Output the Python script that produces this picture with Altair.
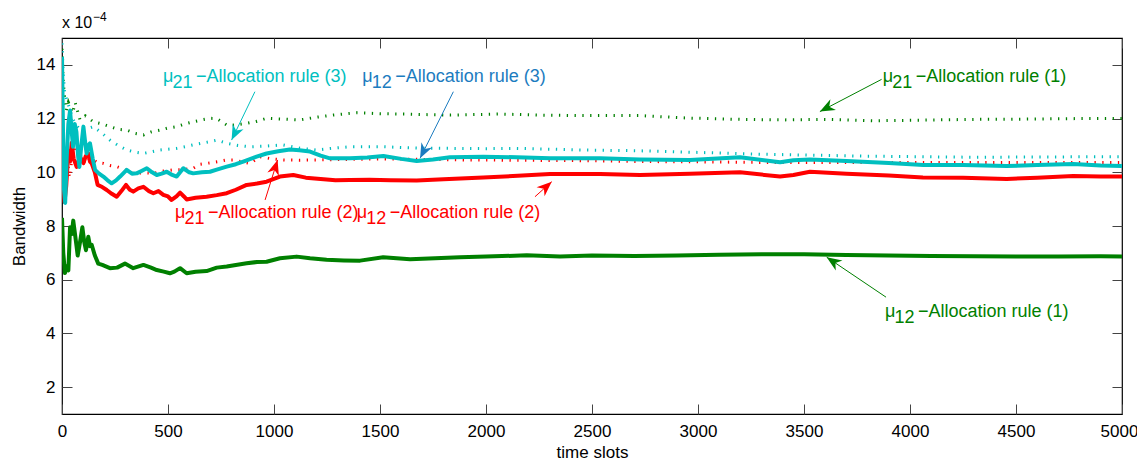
import math
import altair as alt
import pandas as pd

# ---------------- data ----------------
# thick solid lines
gs_x = [0, 6, 14, 22, 30, 38, 46, 53, 63, 74, 85, 96, 105, 113, 124, 132, 140, 155, 171, 190, 226, 260, 297, 336,
        384, 420, 447, 480, 509, 530, 557, 588, 630, 682, 730, 777, 820, 871, 920, 965, 1028, 1107, 1170, 1248, 1330,
        1406, 1515, 1642, 1760, 1877, 2000, 2192, 2349, 2500, 2700, 2900, 3100, 3300, 3500, 3700, 3900, 4100, 4300,
        4500, 4700, 4900, 5000]
gs_v = [8.3, 7.0, 6.25, 6.5, 6.35, 7.95, 7.7, 8.2, 7.6, 6.9, 7.4, 7.95, 7.4, 7.1, 7.6, 7.25, 7.3, 6.9, 6.6, 6.55,
        6.43, 6.45, 6.6, 6.43, 6.55, 6.45, 6.36, 6.3, 6.24, 6.3, 6.43, 6.24, 6.3, 6.32, 6.45, 6.49, 6.55, 6.61, 6.66,
        6.67, 6.8, 6.86, 6.8, 6.74, 6.72, 6.71, 6.84, 6.76, 6.8, 6.84, 6.86, 6.91, 6.86, 6.9, 6.88, 6.9, 6.93, 6.95,
        6.95, 6.92, 6.9, 6.88, 6.87, 6.86, 6.86, 6.87, 6.86]

rs_x = [0, 5, 12, 20, 30, 38, 46, 55, 69, 85, 101, 112, 124, 132, 140, 155, 168, 190, 211, 235, 258, 280, 302, 320,
        336, 360, 384, 410, 431, 455, 478, 500, 517, 540, 557, 575, 588, 630, 682, 730, 777, 820, 871, 920, 965, 1028,
        1091, 1150, 1220, 1290, 1358, 1450, 1550, 1673, 1800, 1987, 2150, 2302, 2538, 2726, 2962, 3198, 3387, 3450,
        3528, 3700, 3900, 4061, 4250, 4456, 4600, 4770, 4900, 5000]
rs_v = [11.0, 10.0, 8.9, 9.5, 10.8, 10.4, 11.1, 10.5, 10.2, 10.58, 10.34, 10.6, 10.7, 10.4, 10.33, 10.0, 9.53, 9.45,
        9.34, 9.2, 9.09, 9.3, 9.53, 9.35, 9.28, 9.4, 9.46, 9.3, 9.22, 9.3, 9.16, 9.1, 8.97, 9.1, 9.24, 9.1, 8.99, 9.05,
        9.09, 9.15, 9.22, 9.35, 9.53, 9.58, 9.65, 9.84, 9.9, 9.8, 9.75, 9.7, 9.71, 9.72, 9.7, 9.69, 9.74, 9.81, 9.87,
        9.94, 9.94, 9.9, 9.95, 10.0, 9.84, 9.9, 10.02, 9.95, 9.88, 9.81, 9.8, 9.75, 9.8, 9.86, 9.84, 9.84]

cs_x = [0, 4, 8, 15, 22, 30, 38, 46, 52, 60, 68, 76, 82, 90, 101, 108, 116, 124, 132, 145, 156, 175, 195, 215, 234,
        255, 274, 305, 330, 352, 375, 400, 425, 447, 470, 494, 520, 541, 572, 600, 619, 660, 698, 730, 777, 820, 855,
        918, 965, 1020, 1075, 1120, 1170, 1220, 1264, 1358, 1440, 1516, 1600, 1673, 1750, 1830, 1987, 2145, 2302,
        2538, 2726, 2962, 3198, 3387, 3450, 3528, 3700, 3900, 4063, 4250, 4456, 4600, 4770, 4900, 5000]
cs_v = [14.3, 12.0, 9.5, 8.86, 10.5, 11.8, 12.3, 11.5, 10.95, 11.8, 11.5, 10.6, 10.2, 10.9, 11.7, 11.2, 10.7, 11.0,
        11.08, 10.5, 10.09, 9.95, 9.84, 9.7, 9.59, 9.7, 9.84, 10.09, 9.95, 9.96, 10.05, 10.15, 10.0, 9.9, 9.95, 10.02,
        9.9, 9.84, 10.15, 10.0, 9.96, 10.0, 10.02, 10.1, 10.21, 10.3, 10.4, 10.58, 10.7, 10.78, 10.85, 10.82, 10.77,
        10.62, 10.52, 10.52, 10.55, 10.61, 10.5, 10.42, 10.48, 10.56, 10.58, 10.56, 10.52, 10.52, 10.48, 10.46, 10.56,
        10.37, 10.45, 10.48, 10.42, 10.35, 10.27, 10.27, 10.23, 10.27, 10.31, 10.25, 10.23]

# dotted lines
gd_x = [0, 5, 12, 20, 30, 38, 50, 62, 85, 110, 148, 190, 226, 265, 305, 345, 384, 420, 462, 500, 541, 580, 619, 660,
        698, 730, 777, 808, 871, 920, 965, 1044, 1123, 1200, 1280, 1390, 1500, 1594, 1700, 1830, 1950, 2066, 2250,
        2458, 2726, 2950, 3198, 3400, 3600, 3828, 4050, 4300, 4550, 4800, 5000]
gd_v = [14.6, 13.5, 12.8, 12.3, 12.6, 12.44, 12.2, 12.6, 11.95, 12.1, 11.88, 11.8, 11.7, 11.6, 11.57, 11.45, 11.39,
        11.5, 11.57, 11.65, 11.7, 11.8, 11.88, 11.95, 12.01, 12.0, 11.76, 11.76, 11.82, 11.9, 12.01, 11.98, 11.95,
        12.05, 12.13, 12.22, 12.18, 12.17, 12.15, 12.13, 12.15, 12.17, 12.13, 12.11, 12.11, 12.02, 11.97, 11.95,
        11.97, 11.92, 11.94, 11.97, 11.98, 12.0, 12.0]

cd_x = [0, 5, 12, 22, 35, 50, 65, 85, 110, 148, 190, 226, 265, 305, 345, 384, 420, 462, 500, 541, 580, 619, 660,
        698, 730, 777, 830, 887, 950, 1044, 1120, 1201, 1280, 1358, 1516, 1680, 1830, 2000, 2145, 2300, 2458, 2726,
        3000, 3250, 3513, 3800, 4050, 4300, 4600, 5000]
cd_v = [14.8, 13.8, 13.0, 12.7, 12.4, 12.0, 11.8, 11.57, 11.6, 11.7, 11.45, 11.2, 11.0, 10.83, 10.75, 10.7, 10.76,
        10.83, 10.86, 10.89, 10.95, 11.02, 11.08, 11.14, 11.2, 11.08, 11.0, 10.95, 10.97, 11.02, 10.9, 10.83, 10.9,
        10.95, 10.95, 10.9, 10.89, 10.88, 10.89, 10.86, 10.83, 10.8, 10.74, 10.68, 10.64, 10.6, 10.58, 10.56, 10.57,
        10.58]

rd_x = [0, 8, 15, 25, 35, 45, 60, 75, 90, 110, 130, 148, 170, 195, 226, 258, 300, 336, 384, 431, 480, 525, 570, 619,
        651, 698, 740, 777, 808, 887, 934, 990, 1044, 1120, 1201, 1280, 1358, 1500, 1700, 1900, 2100, 2300, 2500,
        2726, 3000, 3250, 3513, 3800, 4100, 4400, 4700, 5000]
rd_v = [11.0, 9.6, 10.0, 10.5, 9.8, 10.4, 11.0, 10.8, 10.6, 10.3, 10.5, 10.46, 10.35, 10.33, 10.25, 10.21, 10.08,
        9.96, 9.98, 9.96, 10.05, 10.09, 10.1, 10.15, 10.3, 10.35, 10.4, 10.46, 10.46, 10.33, 10.58, 10.5, 10.46,
        10.45, 10.46, 10.47, 10.48, 10.5, 10.48, 10.46, 10.45, 10.44, 10.43, 10.4, 10.39, 10.37, 10.36, 10.36,
        10.36, 10.36, 10.36, 10.36]

# ticks
x_ticks = [0, 500, 1000, 1500, 2000, 2500, 3000, 3500, 4000, 4500, 5000]
y_ticks = [2, 4, 6, 8, 10, 12, 14]

# annotations: label position (data coords), arrow start, arrow tip
ann_sub = ["21", "12", "21", "12", "21", "12"]
ann_rest = ["\u2212Allocation rule (3)", "\u2212Allocation rule (3)", "\u2212Allocation rule (2)",
            "\u2212Allocation rule (2)", "\u2212Allocation rule (1)", "\u2212Allocation rule (1)"]
ann_color = ["#00BFBF", "#1C7CC0", "#FF0000", "#FF0000", "#008000", "#008000"]
ann_x = [476, 1416, 533, 1390, 3871, 3882]
ann_y = [13.38, 13.38, 8.29, 8.29, 13.37, 4.6]
arr_x0 = [910, 1846, 958, 2231, 3866, 3887]
arr_y0 = [13.0, 13.0, 8.97, 9.09, 13.46, 5.35]
arr_x1 = [800, 1689, 1017, 2310, 3575, 3607]
arr_y1 = [11.2, 10.52, 10.46, 9.65, 12.26, 6.84]

GREEN, RED, CYAN = "#008000", "#FF0000", "#00BFBF"
FONT = "Liberation Sans"

# ---------------- chart ----------------
W, H = 1060, 376
XMAX, YMIN, YMAX = 5000, 1, 15
xscale = alt.Scale(domain=[0, XMAX], nice=False, zero=False)
yscale = alt.Scale(domain=[YMIN, YMAX], nice=False, zero=False)


def line_layer(xs, vs, color, dotted):
    df = pd.DataFrame({"x": xs, "v": vs})
    if dotted:
        m = alt.Chart(df).mark_line(color=color, strokeWidth=3, strokeDash=[1.3, 6.5], strokeCap="butt", clip=True)
    else:
        m = alt.Chart(df).mark_line(color=color, strokeWidth=4, strokeJoin="round", clip=True)
    return m.encode(x=alt.X("x:Q", scale=xscale, axis=None), y=alt.Y("v:Q", scale=yscale, axis=None))


axis_common = dict(tickSize=10, offset=-10, domain=False, tickColor="#444", tickWidth=1, grid=False,
                   labelFont=FONT, labelFontSize=17, labelColor="black", titleFont=FONT, titleFontSize=17,
                   titleFontWeight="normal", titleColor="black", format="d")

carrier = pd.DataFrame({"x": [0, XMAX], "v": [YMIN, YMAX]})
axes_bl = alt.Chart(carrier).mark_point(opacity=0).encode(
    x=alt.X("x:Q", scale=xscale, axis=alt.Axis(
        orient="bottom", values=x_ticks, title="time slots", labelPadding=9, titlePadding=5, labelFlush=False,
        labelOffset={"condition": {"test": "datum.value == 5000", "value": -3}, "value": 0}, **axis_common)),
    y=alt.Y("v:Q", scale=yscale, axis=alt.Axis(orient="left", values=y_ticks, title="Bandwidth",
                                                labelPadding=7, titlePadding=8, **axis_common)),
)
axes_tr = alt.Chart(carrier).mark_point(opacity=0).encode(
    x=alt.X("x:Q", scale=xscale, axis=alt.Axis(orient="top", values=x_ticks, labels=False, title=None,
                                                **axis_common)),
    y=alt.Y("v:Q", scale=yscale, axis=alt.Axis(orient="right", values=y_ticks, labels=False, title=None,
                                                **axis_common)),
)

# annotations
sx = W / XMAX
sy = H / (YMAX - YMIN)
angles = []
for a, b, c, d in zip(arr_x0, arr_y0, arr_x1, arr_y1):
    dxp = (c - a) * sx
    dyp = -(d - b) * sy
    angles.append(math.degrees(math.atan2(dxp, -dyp)) % 360)

ann = pd.DataFrame({"x": ann_x, "y": ann_y, "sub": ann_sub, "rest": ann_rest, "col": ann_color,
                    "x0": arr_x0, "y0": arr_y0, "x1": arr_x1, "y1": arr_y1, "ang": angles, "mu": ["\u03bc"] * 6})

X = lambda f: alt.X(f, scale=xscale, axis=None)
Y = lambda f: alt.Y(f, scale=yscale, axis=None)
colr = alt.Color("col:N", scale=None)

txt_kw = dict(align="left", baseline="alphabetic", font=FONT, fontSize=18)
t_mu = alt.Chart(ann).mark_text(**txt_kw).encode(x=X("x:Q"), y=Y("y:Q"), text="mu:N", color=colr)
t_sub = alt.Chart(ann).mark_text(dx=9.5, dy=6, **txt_kw).encode(x=X("x:Q"), y=Y("y:Q"), text="sub:N", color=colr)
t_rest = alt.Chart(ann).mark_text(dx=33, **txt_kw).encode(x=X("x:Q"), y=Y("y:Q"), text="rest:N", color=colr)

arrows = alt.Chart(ann).mark_rule(strokeWidth=1).encode(x=X("x0:Q"), y=Y("y0:Q"), x2="x1:Q", y2="y1:Q", color=colr)
heads = alt.Chart(ann).mark_point(shape="M0,0 L0.8,2 L0,1.4 L-0.8,2 Z", size=225, filled=True, opacity=1,
                                  strokeWidth=0).encode(
    x=X("x1:Q"), y=Y("y1:Q"), angle=alt.Angle("ang:Q", scale=None), fill=alt.Fill("col:N", scale=None))

exp_df = pd.DataFrame({"t": ["x 10"], "e": ["\u22124"]})
exp_main = alt.Chart(exp_df).mark_text(align="left", baseline="alphabetic", font=FONT, fontSize=16,
                                       color="black").encode(text="t:N", x=alt.value(0), y=alt.value(-10))
exp_sup = alt.Chart(exp_df).mark_text(align="left", baseline="alphabetic", font=FONT, fontSize=12,
                                      color="black").encode(text="e:N", x=alt.value(31), y=alt.value(-17))

layers = [
    axes_bl, axes_tr,
    line_layer(gd_x, gd_v, GREEN, True),
    line_layer(cd_x, cd_v, CYAN, True),
    line_layer(rd_x, rd_v, RED, True),
    line_layer(gs_x, gs_v, GREEN, False),
    line_layer(rs_x, rs_v, RED, False),
    line_layer(cs_x, cs_v, CYAN, False),
    arrows, heads, t_mu, t_sub, t_rest, exp_main, exp_sup,
]

chart = alt.layer(*layers).resolve_axis(x="independent", y="independent").properties(
    width=W, height=H,
    autosize=alt.AutoSizeParams(type="none"),
    padding={"left": 54, "top": 30, "right": 15, "bottom": 46},
    background="white",
).configure_view(stroke="black", strokeWidth=1.2)

chart.save("out.html", embed_options={"renderer": "svg", "actions": False})
